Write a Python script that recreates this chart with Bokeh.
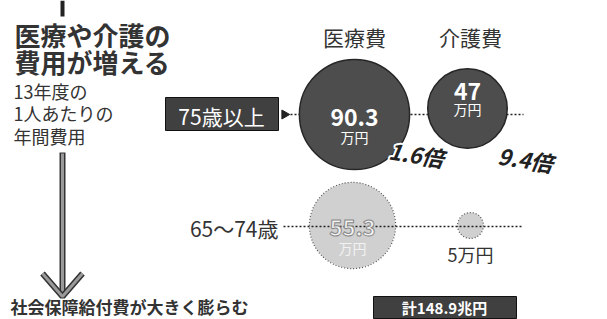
import numpy as np
from bokeh.plotting import figure
from bokeh.models import ColumnDataSource, Range1d
from bokeh.core.properties import value
from bokeh.embed import file_html
from bokeh.resources import INLINE

# ---- data ----
age_groups = ["75歳以上", "65〜74歳"]
medical_cost = [90.3, 55.3]   # 万円 per person per year (FY2013)
care_cost = [47, 5]           # 万円
unit = "万円"
title_lines = ["医療や介護の", "費用が増える"]
sub_lines = ["13年度の", "1人あたりの", "年間費用"]
col_headers = ["医療費", "介護費"]
bottom_head = "社会保障給付費が大きく膨らむ"
bottom_box = "計148.9兆円"

FONT = value("Noto Sans CJK JP")
W, H = 607, 319
p = figure(width=W, height=H, x_range=Range1d(0, W), y_range=Range1d(H, 0),
           output_backend="svg", toolbar_location=None,
           x_axis_location=None, y_axis_location=None, min_border=0)
p.grid.visible = False
p.outline_line_color = None
p.background_fill_color = "white"
p.border_fill_color = "white"

# layout constants
col_x = [354, 467]
row_y = [114, 226]
K = 5.8  # radius scale (sqrt of value)

# ---- left title block ----
p.segment(x0=[62], y0=[0], x1=[62], y1=[16], line_color="#222", line_width=4)
p.text(x=[14, 14], y=[34, 61], text=title_lines, text_font=FONT, text_font_size="26px",
       text_font_style="bold", text_color="#333", text_baseline="middle", text_align="left")
p.text(x=[13, 13, 13], y=[90, 112, 135], text=sub_lines, text_font=FONT, text_font_size="18px",
       text_color="#333", text_baseline="middle", text_align="left")
# arrow down
p.segment(x0=[62], y0=[152], x1=[62], y1=[295], line_color="#333", line_width=6)
p.segment(x0=[62], y0=[153], x1=[62], y1=[294], line_color="#999", line_width=3)
p.multi_line(xs=[[42, 62, 82]], ys=[[273, 296, 273]], line_color="#333", line_width=6)
p.multi_line(xs=[[42, 62, 82]], ys=[[273, 296, 273]], line_color="#999", line_width=3)

# ---- column headers ----
p.text(x=[col_x[0], col_x[1] + 3], y=[36, 36], text=col_headers, text_font=FONT,
       text_font_size="21px", text_color="#333", text_align="center", text_baseline="middle")

# ---- row labels ----
p.quad(left=[165], right=[278], top=[97], bottom=[130], fill_color="#404040", line_color="#111")
p.text(x=[221], y=[115], text=[age_groups[0]], text_font=FONT, text_font_size="21px",
       text_color="white", text_align="center", text_baseline="middle")
p.scatter(x=[284], y=[row_y[0]], marker="triangle", size=9, angle=-np.pi / 2,
          fill_color="#222", line_color="#222")
p.text(x=[278], y=[row_y[1] + 1], text=[age_groups[1]], text_font=FONT, text_font_size="21px",
       text_color="#333", text_align="right", text_baseline="middle")

# ---- 75+ row ----
p.segment(x0=[290], y0=[row_y[0]], x1=[523], y1=[row_y[0]], line_color="#222",
          line_width=1.5, line_dash="2 2")
src75 = ColumnDataSource(dict(x=col_x, y=[row_y[0], row_y[0] - 6],
                              r=[K * np.sqrt(medical_cost[0]), K * np.sqrt(care_cost[0])]))
p.circle(x="x", y="y", radius="r", source=src75, fill_color="#4d4d4d", line_color="#262626",
         line_width=1.5)
p.text(x=col_x, y=[row_y[0] + 3, row_y[0] - 23],
       text=[f"{medical_cost[0]}", f"{care_cost[0]}"], text_font=FONT,
       text_font_size="23px", text_font_style="bold", text_color="white",
       text_align="center", text_baseline="middle")
p.text(x=col_x, y=[row_y[0] + 22, row_y[0] - 6], text=[unit, unit], text_font=FONT,
       text_font_size="14px", text_color="white",
       text_align="center", text_baseline="middle")

# ratios 75+ vs 65-74 (white halo underneath, dark text on top)
ratios = [f"{medical_cost[0] / medical_cost[1]:.1f}倍", f"{care_cost[0] / care_cost[1]:.1f}倍"]
ratio_src = ColumnDataSource(dict(x=[416, 525], y=[153, 158], t=ratios))
for dx, dy in [(-2, 0), (2, 0), (0, -2), (0, 2), (-1.5, -1.5), (1.5, 1.5), (-1.5, 1.5), (1.5, -1.5)]:
    p.text(x="x", y="y", text="t", source=ratio_src, text_font=FONT, text_font_size="22px",
           text_font_style="bold italic", text_color="white", x_offset=dx, y_offset=dy,
           angle=-0.15, text_align="center", text_baseline="middle")
p.text(x="x", y="y", text="t", source=ratio_src, text_font=FONT, text_font_size="22px",
       text_font_style="bold italic", text_color="#222",
       angle=-0.15, text_align="center", text_baseline="middle")

# ---- 65-74 row ----
src65 = ColumnDataSource(dict(x=[col_x[0] - 2, col_x[1] + 3], y=[row_y[1] - 1, row_y[1] - 1],
                              r=[K * np.sqrt(medical_cost[1]), K * np.sqrt(care_cost[1])]))
p.circle(x="x", y="y", radius="r", source=src65, fill_color="#d0d0d0", line_color="#555",
         line_width=1.2, line_dash="1 2")
p.segment(x0=[283], y0=[row_y[1]], x1=[523], y1=[row_y[1]], line_color="#222",
          line_width=1.5, line_dash="2 2")
p.text(x=[col_x[0] - 2], y=[row_y[1] + 1], text=[f"{medical_cost[1]}"], text_font=FONT,
       text_font_size="22px", text_font_style="bold", text_color="#f2f2f2",
       text_outline_color="#888", text_align="center", text_baseline="middle")
p.text(x=[col_x[0] - 2], y=[row_y[1] + 21], text=[unit], text_font=FONT,
       text_font_size="14px", text_color="#f2f2f2",
       text_align="center", text_baseline="middle")
p.text(x=[col_x[1] + 3], y=[row_y[1] + 27], text=[f"{care_cost[1]}{unit}"], text_font=FONT,
       text_font_size="18px", text_color="#333", text_align="center", text_baseline="middle")

# ---- bottom headline ----
p.text(x=[10], y=[306], text=[bottom_head], text_font=FONT, text_font_size="17px",
       text_font_style="bold", text_color="#333", text_align="left", text_baseline="middle")
p.quad(left=[373], right=[516], top=[296], bottom=[318], fill_color="#404040", line_color="#111")
p.text(x=[444], y=[307], text=[bottom_box], text_font=FONT, text_font_size="15px",
       text_font_style="bold", text_color="white", text_align="center", text_baseline="middle")

open("out.html", "w").write(file_html(p, INLINE))
